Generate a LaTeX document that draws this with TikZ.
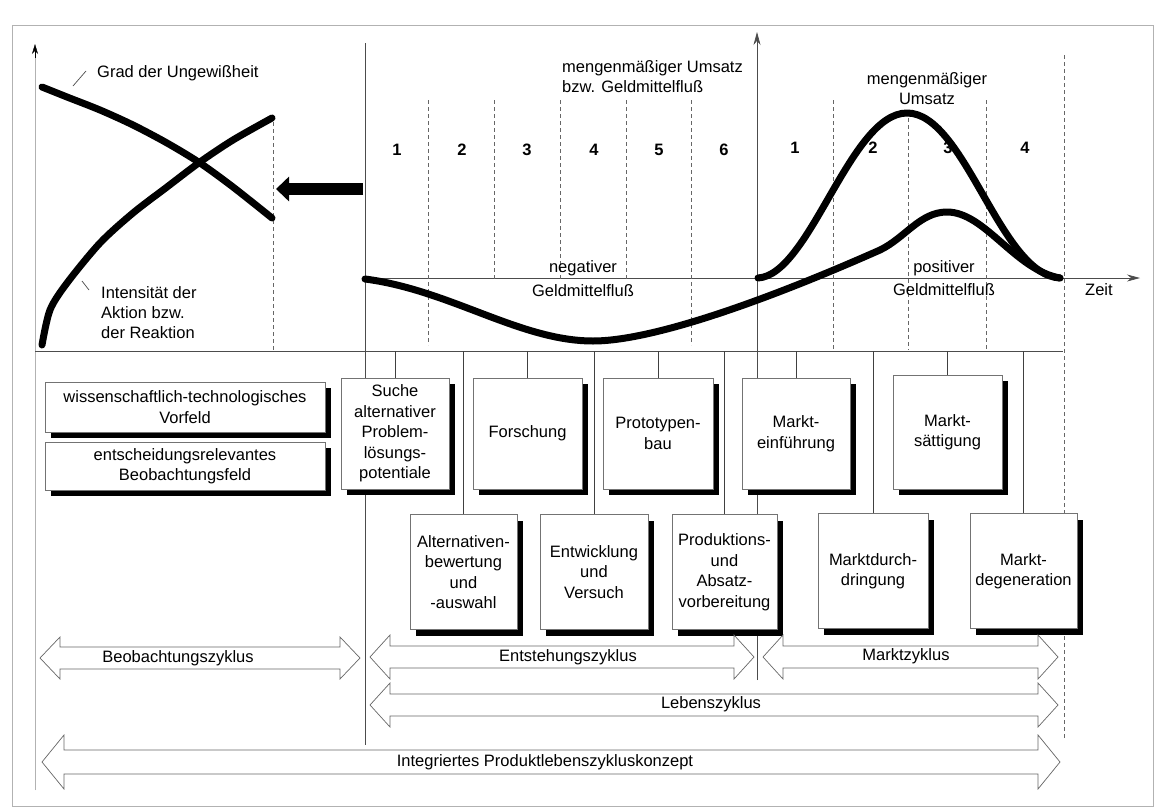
\documentclass[tikz,border=0pt]{standalone}
\usepackage{fontspec}
\setmainfont{Liberation Sans}
\usetikzlibrary{arrows.meta,shadows,backgrounds}

% hollow double-headed cycle arrow:
% #1 left tip x, #2 right tip x, #3 centre y, #4 shaft half height, #5 head half height, #6 head length
\newcommand\cyclearrow[6]{%
  \draw[cyclearr] (#1,#3) -- (#1+#6,#3-#5) -- (#1+#6,#3-#4) -- (#2-#6,#3-#4)
    -- (#2-#6,#3-#5) -- (#2,#3) -- (#2-#6,#3+#5) -- (#2-#6,#3+#4)
    -- (#1+#6,#3+#4) -- (#1+#6,#3+#5) -- cycle;}

\begin{document}
\begin{tikzpicture}[x=1pt,y=-1pt,
  txt/.style={font=\fontsize{16.5}{20}\selectfont, inner sep=0pt},
  num/.style={font=\fontsize{16.5}{20}\selectfont\bfseries, inner sep=0pt},
  panel/.style={draw=black!55, line width=0.6pt, fill=white, align=center,
    font=\fontsize{16.5}{20.5}\selectfont, inner sep=1pt,
    drop shadow={shadow xshift=6pt, shadow yshift=-6pt, fill=black, opacity=1}},
  upper/.style={panel, minimum height=111pt},
  lower/.style={panel, minimum height=115pt},
  frame/.style={draw=black!30, line width=0.8pt},
  rule/.style={draw=black!70, line width=0.7pt},
  stub/.style={draw=black!75, line width=0.8pt},
  dashrule/.style={draw=black!60, line width=0.8pt, dash pattern=on 4pt off 3pt},
  curve/.style={draw=black, line width=7pt, line cap=round, line join=round},
  cyclearr/.style={draw=black!60, line width=0.7pt, fill=white},
  axistip/.style={-{Stealth[length=13pt,width=7pt]}},
]
\useasboundingbox (0,0) rectangle (1164,811);

\coordinate (bar) at (0,351);

% ---------- frame, axes, grid lines (behind everything) ----------
\begin{scope}[on background layer]
  \fill[white] (0,0) rectangle (1164,811);
  \draw[frame] (12,25) rectangle (1153,806);
  \draw[frame] (35,790) -- (35,55);
  \draw[black, -{Stealth[length=10pt,width=6pt]}] (35,58) -- (35,44);
  \draw[rule] (35,351) -- (1063,351);
  \draw[dashrule] (273,115) -- (273,351);
  \draw[rule] (365,43) -- (365,745);
  \draw[rule, axistip] (757,680) -- (757,32);
  \draw[rule, axistip] (365,278) -- (1140,278);
  % phase borders, development side
  \draw[dashrule] (428,100) -- (428,345);
  \draw[dashrule] (494,100) -- (494,280);
  \draw[dashrule] (560,100) -- (560,280);
  \draw[dashrule] (626,100) -- (626,280);
  \draw[dashrule] (691,100) -- (691,345);
  % phase borders, market side
  \draw[dashrule] (833,100) -- (833,350);
  \draw[dashrule] (908,118) -- (908,350);
  \draw[dashrule] (986,100) -- (986,350);
  \draw[dashrule] (1064,55) -- (1064,740);
\end{scope}

% ---------- left chart ----------
\draw[curve] plot[smooth] coordinates {(42,87) (67,97) (100,110) (133,125) (167,143) (200,163) (233,187) (272,218)};
\draw[curve] plot[smooth] coordinates {(42,345) (50,310) (67,283) (100,243) (133,213) (167,187) (200,162) (233,140) (272,118)};
\node[txt, anchor=base west] (grad) at (97,77) {Grad der Ungewißheit};
\coordinate (gradtip) at (73,86);
\draw[rule] ([shift={(-11,-6)}]grad.base west) -- (gradtip);
\node[txt, align=left, anchor=north west] (intens) at (101,286) {Intensität der\\Aktion bzw.\\der Reaktion};
\coordinate (intenstip) at (82,281);
\draw[rule] ([shift={(-12,4)}]intens.north west) -- (intenstip);

% feedback arrow towards the left chart
\coordinate (feedstart) at (363,189);
\coordinate (feedend) at (276,189);
\draw[line width=12pt, -{Triangle[length=13pt,width=24pt]}] (feedstart) -- (feedend);

% ---------- life-cycle chart ----------
% cash flow
\draw[curve] (365,279) .. controls (450,290) and (520,341) .. (593,341)
  .. controls (660,341) and (790,290) .. (880,250)
  .. controls (905,238) and (920,212) .. (947,212)
  .. controls (985,212) and (1015,270) .. (1060,278);
% sales volume
\draw[curve] (758,278) .. controls (810,275) and (850,113) .. (907,113)
  .. controls (965,113) and (1000,275) .. (1060,278);

\node[txt, align=left, anchor=north west] (ylabel) at (562,60) {mengenmäßiger Umsatz\\bzw. Geldmittelfluß};
\node[txt, align=center] (umsatz) at (927,89) {mengenmäßiger\\Umsatz};
\node[txt, align=center, font=\fontsize{16.5}{24}\selectfont] (neg) at (583,279) {negativer\\Geldmittelfluß};
\node[txt, align=center, font=\fontsize{16.5}{23}\selectfont] (pos) at (944,278) {positiver\\Geldmittelfluß};
\node[txt, anchor=base west] (zeit) at (1085,295) {Zeit};

\foreach \n/\x in {1/397, 2/462, 3/527, 4/594, 5/659, 6/724}
  \node[num] (dev\n) at (\x,150) {\n};
\foreach \n/\x in {1/795, 2/873, 3/948, 4/1025}
  \node[num] (mkt\n) at (\x,148) {\n};

% ---------- observation field ----------
\node[panel, minimum width=280pt, minimum height=50pt] (vorfeld) at (185,407) {wissenschaftlich-technologisches\\Vorfeld};
\node[panel, minimum width=280pt, minimum height=48pt] (feld) at (185,466) {entscheidungsrelevantes\\Beobachtungsfeld};

% ---------- phase boxes ----------
\node[upper, minimum width=108pt] (suche) at (395,433.5) {Suche\\alternativer\\Problem-\\lösungs-\\potentiale};
\node[upper, minimum width=109pt] (forschung) at (527.5,433.5) {Forschung};
\node[upper, minimum width=110pt] (prototyp) at (658,433.5) {Prototypen-\\bau};
\node[upper, minimum width=108pt] (einf) at (796,433.5) {Markt-\\einführung};
\node[panel, minimum width=109pt, minimum height=114pt] (saett) at (947.5,432) {Markt-\\sättigung};

\node[lower, minimum width=107pt] (alt) at (463.5,572) {Alternativen-\\bewertung\\und\\-auswahl};
\node[lower, minimum width=108pt] (entw) at (594,572) {Entwicklung\\und\\Versuch};
\node[lower, minimum width=105pt] (prod) at (724.5,572) {Produktions-\\und\\Absatz-\\vorbereitung};
\node[lower, minimum width=110pt] (durch) at (873,571) {Marktdurch-\\dringung};
\node[lower, minimum width=107pt] (degen) at (1023.5,571) {Markt-\\degeneration};

% stubs from the phase bar down to each box
\foreach \b in {suche, forschung, prototyp, einf, saett, alt, entw, prod, durch, degen}
  \draw[stub] (\b.north) -- (\b.north |- bar);

% ---------- cycles ----------
\cyclearrow{40}{360}{658}{11}{21}{20}
\node[txt] (beob) at (178,658) {Beobachtungszyklus};
\cyclearrow{370}{754}{657}{11}{22}{20}
\node[txt] (entst) at (568,657) {Entstehungszyklus};
\cyclearrow{763}{1058}{657}{11}{22}{20}
\node[txt] (marktz) at (906,656) {Marktzyklus};
\cyclearrow{370}{1058}{705}{11}{22}{20}
\node[txt] (lebens) at (711,704) {Lebenszyklus};
\cyclearrow{42}{1060}{762}{12}{27}{22}
\node[txt] (integ) at (545,762) {Integriertes Produktlebenszykluskonzept};
\end{tikzpicture}
\end{document}
